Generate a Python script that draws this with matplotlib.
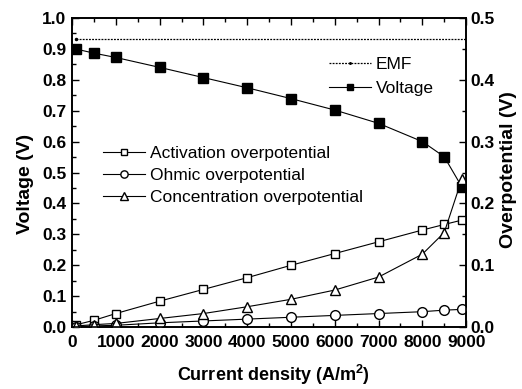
import numpy as np
import matplotlib.pyplot as plt
from matplotlib.ticker import MultipleLocator

plt.rcParams.update({
    'font.family': ['Liberation Sans', 'DejaVu Sans'],
    'font.size': 12,
    'font.weight': 'bold',
    'mathtext.default': 'regular',
})

current = [100, 500, 1000, 2000, 3000, 4000, 5000, 6000, 7000, 8000, 8500, 8900]
voltage = [0.899, 0.886, 0.872, 0.840, 0.807, 0.774, 0.739, 0.702, 0.659, 0.600, 0.551, 0.454]
emf_x = [100, 9000]
emf = [0.932, 0.932]
activation = [0.004, 0.011, 0.022, 0.042, 0.061, 0.080, 0.100, 0.119, 0.138, 0.157, 0.166, 0.173]
ohmic = [0.001, 0.002, 0.003, 0.007, 0.010, 0.013, 0.016, 0.019, 0.022, 0.025, 0.0275, 0.0287]
concentration = [0.002, 0.004, 0.006, 0.014, 0.022, 0.033, 0.045, 0.060, 0.081, 0.118, 0.153, 0.239]

fig = plt.figure(figsize=(5.22, 3.89), dpi=100)
ax1 = fig.add_axes([0.138, 0.159, 0.755, 0.795])
ax2 = ax1.twinx()

l_emf, = ax1.plot(emf_x, emf, color='black', linestyle=(0, (1.5, 1)), linewidth=0.9,
                  marker='.', markersize=3, markevery=[0], label='EMF')
l_v, = ax1.plot(current, voltage, color='black', linewidth=0.8, marker='s',
                markersize=6.5, markerfacecolor='black', label='Voltage')

l_a, = ax2.plot(current, activation, color='black', linewidth=0.8, marker='s',
                markersize=6.2, markerfacecolor='white', label='Activation overpotential')
l_o, = ax2.plot(current, ohmic, color='black', linewidth=0.8, marker='o',
                markersize=7, markerfacecolor='white', label='Ohmic overpotential')
l_c, = ax2.plot(current, concentration, color='black', linewidth=0.8, marker='^',
                markersize=7.5, markerfacecolor='white', label='Concentration overpotential')

ax1.set_xlim(0, 9000)
ax1.set_ylim(0, 1.0)
ax2.set_ylim(0, 0.5)

ax1.xaxis.set_major_locator(MultipleLocator(1000))
ax1.xaxis.set_minor_locator(MultipleLocator(500))
ax1.yaxis.set_major_locator(MultipleLocator(0.1))
ax1.yaxis.set_minor_locator(MultipleLocator(0.05))
ax2.yaxis.set_major_locator(MultipleLocator(0.1))
ax2.yaxis.set_minor_locator(MultipleLocator(0.05))
ax1.yaxis.set_major_formatter(plt.FormatStrFormatter('%.1f'))
ax2.yaxis.set_major_formatter(plt.FormatStrFormatter('%.1f'))

for ax in (ax1, ax2):
    for s in ax.spines.values():
        s.set_linewidth(1.2)
ax1.tick_params(which='both', direction='in', top=True, right=False, width=1.0, labelsize=12.5)
ax1.tick_params(which='major', length=5)
ax1.tick_params(which='minor', length=3)
ax1.tick_params(axis='x', pad=6)
ax1.tick_params(axis='y', pad=4)
ax2.tick_params(which='both', direction='in', width=1.0, labelsize=12.5, pad=3)
ax2.tick_params(which='major', length=5)
ax2.tick_params(which='minor', length=3)

xl = ax1.set_xlabel('Current density (A/m$^2$)', fontweight='bold', fontsize=13)
yl1 = ax1.set_ylabel('Voltage (V)', fontweight='bold', fontsize=14)
yl2 = ax2.set_ylabel('Overpotential (V)', fontweight='bold', fontsize=14)
for lab in (xl, yl1, yl2):
    lab.set_va('center')
    lab.set_ha('center')
ax1.xaxis.set_label_coords(0.511, -0.155)
ax1.yaxis.set_label_coords(-0.118, 0.463)
ax2.yaxis.set_label_coords(1.107, 0.508)

leg_font = {'weight': 'normal', 'size': 12.5}
leg1 = ax2.legend([l_emf, l_v], ['EMF', 'Voltage'], loc='upper left',
                  bbox_to_anchor=(0.652, 0.873), frameon=False, prop=leg_font,
                  borderpad=0, borderaxespad=0, markerscale=0.75,
                  handlelength=2.4, handletextpad=0.3, labelspacing=0.47)
ax2.add_artist(leg1)
ax2.legend([l_a, l_o, l_c], ['Activation overpotential', 'Ohmic overpotential',
                             'Concentration overpotential'],
           loc='upper left', bbox_to_anchor=(0.079, 0.586), frameon=False, prop=leg_font,
           borderpad=0, borderaxespad=0, markerscale=0.75,
           handlelength=2.4, handletextpad=0.3, labelspacing=0.385)

fig.savefig('out.png', dpi=100)
